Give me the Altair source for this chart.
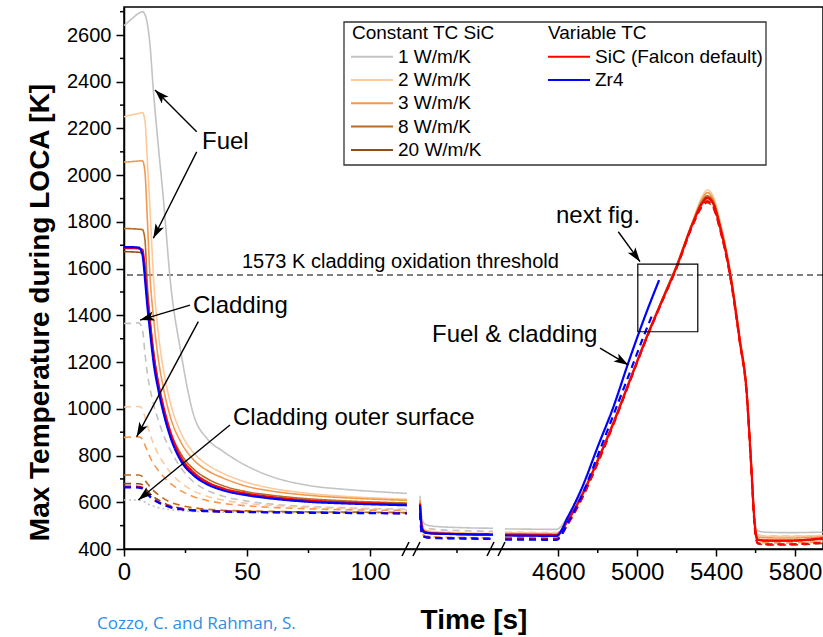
import math
import altair as alt
import pandas as pd

# ---------------- data ----------------
SERIES = ["1 W/m/K", "2 W/m/K", "3 W/m/K", "8 W/m/K", "20 W/m/K",
          "SiC (Falcon default)", "Zr4"]
COLORS = ["#C3C3C3", "#FFC99B", "#F3994F", "#BA6A22", "#8C4E1C", "#FF0000", "#0000FF"]
LINE_W = [1.6, 1.6, 1.6, 1.6, 1.6, 2.2, 2.2]

# time grids [s] for the three axis segments
T_SEG1 = [0, 3, 6, 7.5, 8.5, 9.5, 10.5, 12, 14, 16, 19, 23, 28, 34, 40, 50, 60, 75, 90, 105, 115]
T_SEG2 = [1075, 1100, 1130, 1170, 1230, 1350, 1600, 2000, 2400, 2900]
T_SEG3 = [4330, 4450, 4590, 4650, 4720, 4800, 4880, 4960, 5050, 5130, 5200, 5280, 5330,
          5355, 5385, 5420, 5470, 5520, 5555, 5575, 5597, 5610, 5650, 5760, 5940]
T_SEG3_ZR4_FUEL = [4330, 4450, 4590, 4650, 4720, 4800, 4880, 4960, 5050, 5111]
T_SEG3_ZR4_CLAD = [4330, 4450, 4590, 4650, 4720, 4800, 4880, 4960, 5030, 5080]

# fuel (solid) max temperatures [K]: seg1 + seg2 + seg3
W1_FUEL = [2640, 2668, 2693, 2700, 2688, 2648, 2565, 2355, 2120, 1900, 1530, 1250, 985, 870, 820, 755, 710, 672, 655, 644, 638,
           628, 565, 528, 512, 504, 499, 495, 492, 490, 489,
           486, 485, 484, 540, 640, 785, 948, 1122, 1316, 1478, 1618, 1800, 1900, 1926, 1902, 1798, 1598, 1308, 1082, 815, 515, 478, 472, 470, 472]
W2_FUEL = [2250, 2258, 2264, 2268, 2235, 2060, 1870, 1560, 1320, 1170, 1020, 900, 815, 760, 725, 685, 660, 638, 625, 617, 613,
           612, 540, 500, 486, 480, 476, 473, 470, 468, 467,
           470, 469, 468, 530, 636, 782, 945, 1120, 1315, 1477, 1617, 1803, 1910, 1937, 1910, 1802, 1600, 1310, 1083, 815, 505, 460, 455, 454, 458]
W3_FUEL = [2056, 2058, 2061, 2062, 2015, 1810, 1580, 1390, 1210, 1090, 960, 860, 785, 735, 705, 668, 648, 630, 619, 612, 608,
           608, 535, 495, 482, 476, 472, 469, 467, 465, 464,
           466, 465, 464, 528, 634, 781, 944, 1118, 1313, 1475, 1614, 1798, 1900, 1925, 1898, 1792, 1592, 1302, 1076, 808, 500, 452, 448, 447, 452]
W8_FUEL = [1772, 1771, 1769, 1767, 1725, 1530, 1400, 1250, 1110, 1010, 900, 810, 745, 700, 672, 645, 630, 615, 606, 600, 597,
           598, 528, 489, 477, 471, 468, 466, 464, 462, 461,
           460, 459, 458, 524, 631, 779, 942, 1117, 1312, 1474, 1613, 1795, 1890, 1912, 1888, 1785, 1585, 1296, 1070, 803, 496, 442, 438, 437, 445]
W20_FUEL = [1673, 1672, 1670, 1665, 1610, 1490, 1380, 1240, 1100, 1000, 885, 790, 725, 685, 660, 636, 622, 608, 600, 595, 592,
            594, 525, 486, 474, 469, 466, 464, 462, 460, 459,
            458, 457, 456, 522, 629, 778, 941, 1116, 1311, 1473, 1611, 1793, 1885, 1906, 1882, 1780, 1581, 1292, 1068, 800, 494, 440, 435, 434, 442]
SIC_FUEL = [1688, 1688, 1686, 1680, 1590, 1470, 1370, 1230, 1105, 1010, 895, 795, 730, 685, 660, 637, 622, 607, 599, 594, 591,
            592, 526, 488, 476, 471, 468, 466, 464, 462, 461,
            462, 461, 460, 525, 630, 780, 940, 1115, 1310, 1470, 1608, 1790, 1880, 1902, 1878, 1778, 1580, 1290, 1067, 800, 494, 440, 436, 436, 446]
ZR4_FUEL = [1692, 1692, 1690, 1660, 1560, 1440, 1340, 1200, 1080, 985, 875, 780, 718, 676, 652, 630, 616, 602, 595, 590, 587,
            588, 520, 484, 473, 469, 467, 465, 464, 463, 462]
ZR4_FUEL_S3 = [458, 457, 456, 540, 662, 838, 1010, 1210, 1420, 1551]

# cladding (dashed) max temperatures [K]
W1_CLAD = [1365, 1366, 1368, 1340, 1240, 1150, 1090, 1020, 950, 890, 820, 750, 690, 650, 627, 605, 592, 582, 576, 572, 570,
           572, 530, 505, 495, 490, 486, 482, 479, 477, 476,
           472, 471, 470, 530, 632, 780, 944, 1118, 1312, 1474, 1612, 1793, 1888, 1910, 1886, 1785, 1588, 1300, 1074, 806, 505, 462, 456, 455, 457]
W2_CLAD = [1008, 1009, 1010, 1000, 965, 930, 895, 850, 805, 770, 725, 685, 650, 625, 610, 595, 586, 578, 573, 570, 568,
           568, 505, 470, 460, 456, 453, 451, 450, 449, 448,
           452, 451, 450, 515, 625, 775, 940, 1116, 1310, 1472, 1610, 1792, 1890, 1912, 1888, 1786, 1588, 1298, 1072, 804, 490, 440, 433, 432, 436]
W3_CLAD = [878, 879, 880, 870, 845, 820, 795, 765, 735, 710, 680, 650, 625, 607, 596, 585, 578, 572, 568, 566, 565,
           566, 503, 468, 458, 455, 452, 450, 449, 448, 447,
           448, 447, 446, 512, 622, 773, 938, 1114, 1309, 1470, 1607, 1788, 1882, 1902, 1878, 1778, 1580, 1292, 1066, 798, 486, 433, 427, 426, 431]
W8_CLAD = [717, 717, 717, 710, 695, 680, 667, 650, 632, 617, 600, 587, 577, 570, 566, 563, 561, 559, 558, 557, 556,
           558, 498, 464, 455, 452, 450, 448, 447, 446, 445,
           444, 443, 442, 509, 618, 770, 936, 1112, 1308, 1468, 1605, 1785, 1872, 1890, 1866, 1770, 1574, 1287, 1062, 793, 482, 427, 421, 420, 426]
W20_CLAD = [680, 680, 679, 675, 663, 650, 638, 624, 610, 598, 585, 575, 568, 564, 562, 560, 559, 557, 556, 555, 554,
            556, 496, 463, 454, 451, 449, 447, 446, 445, 444,
            442, 441, 440, 507, 616, 768, 934, 1111, 1307, 1467, 1603, 1782, 1866, 1882, 1860, 1765, 1570, 1284, 1060, 790, 480, 424, 418, 417, 424]
SIC_CLAD = [667, 667, 666, 662, 650, 638, 627, 614, 601, 591, 580, 572, 566, 563, 561, 559, 558, 556, 555, 554, 553,
            555, 495, 462, 454, 451, 449, 447, 446, 445, 444,
            445, 444, 443, 510, 617, 768, 935, 1112, 1308, 1468, 1605, 1785, 1870, 1888, 1865, 1768, 1572, 1285, 1060, 790, 480, 425, 420, 420, 428]
ZR4_CLAD = [664, 664, 663, 659, 647, 635, 624, 611, 599, 589, 578, 570, 565, 562, 560, 558, 557, 555, 554, 553, 552,
            553, 494, 461, 453, 450, 448, 446, 445, 444, 443]
ZR4_CLAD_S3 = [440, 440, 439, 515, 630, 800, 975, 1150, 1305, 1410]

# cladding outer surface (dotted), 1 W/m/K, first segment
W1_OUTER = [610, 610, 609, 606, 600, 594, 589, 583, 577, 573, 568, 564, 561, 559, 558, 557, 556, 555, 554, 553, 552]

THRESHOLD = [1573]
THRESHOLD_LABEL = "1573 K cladding oxidation threshold"
X_TICKS = [0, 50, 100, 4600, 5000, 5400, 5800]
X_MINOR = [25, 75, 2000, 4800, 5200, 5600]
Y_TICKS = list(range(400, 2601, 200))
Y_MINOR = list(range(500, 2701, 200))
NEXT_FIG_T = [5003, 5307]
NEXT_FIG_K = [1330, 1619]

# ---------------- layout helpers ----------------
W, H = 699, 542
XMAX = 699.0
YMIN, YMAX = 400, 2720
KPP = (YMAX - YMIN) / H  # kelvin per pixel


def xd(t):
    """broken time axis -> display coordinate"""
    if t <= 120:
        return t * 2.46
    if t < 4000:
        return 293 + (t - 1000) * 0.04
    return 434.3 + (t - 4600) * 0.1973


def seg(t):
    return 1 if t <= 120 else (2 if t < 4000 else 3)


def ky(py):  # plot pixel row -> kelvin
    return YMAX - py * KPP


rows = []


def add(series, kind, times, vals):
    assert len(times) == len(vals), (series, kind, len(times), len(vals))
    for t, v in zip(times, vals):
        rows.append(dict(series=series, kind=kind, key=f"{series}|{kind}|{seg(t)}", x=xd(t), T=v))


T_MAIN = T_SEG1 + T_SEG2 + T_SEG3
for s, f, c in zip(SERIES[:6], [W1_FUEL, W2_FUEL, W3_FUEL, W8_FUEL, W20_FUEL, SIC_FUEL],
                   [W1_CLAD, W2_CLAD, W3_CLAD, W8_CLAD, W20_CLAD, SIC_CLAD]):
    add(s, "clad", T_MAIN, c)
    add(s, "fuel", T_MAIN, f)
add("Zr4", "clad", T_SEG1 + T_SEG2, ZR4_CLAD)
add("Zr4", "clad", T_SEG3_ZR4_CLAD, ZR4_CLAD_S3)
add("Zr4", "fuel", T_SEG1 + T_SEG2, ZR4_FUEL)
add("Zr4", "fuel", T_SEG3_ZR4_FUEL, ZR4_FUEL_S3)
add("1 W/m/K", "outer", T_SEG1, W1_OUTER)
lines = pd.DataFrame(rows)

FONT = "Liberation Sans"

major_pos = [round(xd(t), 2) for t in X_TICKS]
label_expr = ""
for p, lab in zip(major_pos, X_TICKS):
    label_expr += f"abs(datum.value-{p})<0.5?'{lab}':"
label_expr += "''"

x_scale = alt.Scale(domain=[0, XMAX], nice=False, zero=False)
y_scale = alt.Scale(domain=[YMIN, YMAX], nice=False, zero=False)

x_axis = alt.Axis(values=major_pos, labelExpr=label_expr, title="Time [s]",
                  titleFont=FONT, titleFontSize=28, titleFontWeight="bold",
                  titleY=71, titleBaseline="middle",
                  labelFont=FONT, labelFontSize=24, labelPadding=4,
                  tickSize=7, tickWidth=1.5, tickColor="black",
                  domainColor="black", domainWidth=1.5, grid=False,
                  labelColor="black", titleColor="black", labelFlush=False)
y_axis = alt.Axis(values=Y_TICKS, format="d", title="Max Temperature during LOCA [K]",
                  titleFont=FONT, titleFontSize=28, titleFontWeight="bold",
                  titleX=-84, titleY=305, titleAngle=270, titleBaseline="middle",
                  titleAlign="center",
                  labelFont=FONT, labelFontSize=20, labelPadding=5,
                  tickSize=8, tickWidth=1.5, tickColor="black",
                  domainColor="black", domainWidth=1.5, grid=False,
                  labelColor="black", titleColor="black", labelFlush=False)


def X(field):
    return alt.X(f"{field}:Q", scale=x_scale, axis=x_axis)


def Y(field):
    return alt.Y(f"{field}:Q", scale=y_scale, axis=y_axis)


color_scale = alt.Scale(domain=SERIES, range=COLORS)
dash_scale = alt.Scale(domain=["fuel", "clad", "outer"], range=[[1, 0], [7, 5], [2, 3]])

layers = []

# threshold line
thr = pd.DataFrame({"T": THRESHOLD})
layers.append(alt.Chart(thr).mark_rule(color="black", strokeWidth=1.1, strokeDash=[6, 4]).encode(y=Y("T")))

# data lines, one layer per series (red and blue on top)
for s, w in zip(SERIES, LINE_W):
    layers.append(
        alt.Chart(lines[lines.series == s]).mark_line(strokeWidth=w, interpolate="monotone").encode(
            x=X("x"), y=Y("T"),
            color=alt.Color("series:N", scale=color_scale, legend=None),
            strokeDash=alt.StrokeDash("kind:N", scale=dash_scale, legend=None),
            detail="key:N",
        )
    )

# "next fig." box
box = pd.DataFrame({"x": [xd(NEXT_FIG_T[0])], "x2": [xd(NEXT_FIG_T[1])],
                    "y": [NEXT_FIG_K[0]], "y2": [NEXT_FIG_K[1]]})
layers.append(alt.Chart(box).mark_rect(fillOpacity=0, stroke="black", strokeWidth=1.2).encode(
    x=X("x"), x2="x2", y=Y("y"), y2="y2"))

# minor ticks
xm = pd.DataFrame({"x": [xd(t) for t in X_MINOR]})
layers.append(alt.Chart(xm).mark_rule(color="black", strokeWidth=1.5).encode(
    x=X("x"), y=alt.value(H), y2=alt.value(H + 4)))
ym = pd.DataFrame({"T": Y_MINOR})
layers.append(alt.Chart(ym).mark_rule(color="black", strokeWidth=1.5).encode(
    y=Y("T"), x=alt.value(0), x2=alt.value(-4)))

# axis break marks
brk = []
for c in [287.0, 372.0]:
    for d in (-5.5, 5.5):
        brk.append({"x": c + d - 3.5, "x2": c + d + 3.5})
brk = pd.DataFrame(brk)
layers.append(alt.Chart(brk).mark_rule(color="black", strokeWidth=1.5).encode(
    x=X("x"), x2="x2", y=alt.value(H + 7), y2=alt.value(H - 7)))

# annotations (display x, kelvin)
ann = pd.DataFrame({
    "text": ["Fuel", "Cladding", "Cladding outer surface", "Fuel & cladding", "next fig."],
    "x": [78, 69, 109, 308, 432],
    "T": [2142, 1440, 961, 1316, 1825],
})
layers.append(alt.Chart(ann).mark_text(align="left", baseline="middle", font=FONT, fontSize=24,
                                       color="black").encode(x=X("x"), y=Y("T"), text="text:N"))
thr_lab = pd.DataFrame({"text": [THRESHOLD_LABEL], "x": [118], "T": [1628]})
layers.append(alt.Chart(thr_lab).mark_text(align="left", baseline="middle", font=FONT, fontSize=20,
                                           color="black").encode(x=X("x"), y=Y("T"), text="text:N"))

arrows = pd.DataFrame({
    "x1": [72.7, 72.7, 66.0, 74.3, 106.0, 476.0, 494.3],
    "y1": [2186, 2100, 1444, 1373, 931, 1260, 1758],
    "x2": [31.0, 29.3, 16.0, 12.7, 14.3, 504.3, 516.0],
    "y2": [2365, 1730, 1380, 881, 610, 1188, 1630],
})
arrows["ang"] = [
    math.degrees(math.atan2(r.x2 - r.x1, (r.y2 - r.y1) / KPP)) % 360 for r in arrows.itertuples()
]
layers.append(alt.Chart(arrows).mark_rule(color="black", strokeWidth=1.4).encode(
    x=X("x1"), y=Y("y1"), x2="x2", y2="y2"))
layers.append(alt.Chart(arrows).mark_point(
    shape="M0,0L-0.62,1.9L0,1.45L0.62,1.9Z", filled=True, fill="black", stroke=None, opacity=1, size=230
).encode(x=X("x2"), y=Y("y2"), angle=alt.Angle("ang:Q", scale=None)))

# legend
LEG_X0, LEG_X1 = 220, 642
LEG_Y0, LEG_Y1 = 15, 158
leg_box = pd.DataFrame({"x": [LEG_X0], "x2": [LEG_X1], "y": [ky(LEG_Y0)], "y2": [ky(LEG_Y1)]})
layers.append(alt.Chart(leg_box).mark_rect(fillOpacity=0, stroke="#333333", strokeWidth=1.3).encode(
    x=X("x"), x2="x2", y=Y("y"), y2="y2"))

leg_rows = []
for i, s in enumerate(SERIES):
    col = 0 if i < 5 else 1
    r = i if i < 5 else i - 5
    x0 = 227 if col == 0 else 424
    leg_rows.append({"series": s, "x": x0, "x2": x0 + 42, "xt": x0 + 47, "T": ky(49.7 + 23.3 * r)})
leg = pd.DataFrame(leg_rows)
layers.append(alt.Chart(leg).mark_rule(strokeWidth=2).encode(
    x=X("x"), x2="x2", y=Y("T"), color=alt.Color("series:N", scale=color_scale, legend=None)))
layers.append(alt.Chart(leg).mark_text(align="left", baseline="middle", font=FONT, fontSize=19,
                                       color="black").encode(x=X("xt"), y=Y("T"), text="series:N"))
leg_titles = pd.DataFrame({"text": ["Constant TC SiC", "Variable TC"], "x": [228, 424],
                           "T": [ky(26), ky(26)]})
layers.append(alt.Chart(leg_titles).mark_text(align="left", baseline="middle", font=FONT, fontSize=19,
                                              color="black").encode(x=X("x"), y=Y("T"), text="text:N"))

# citation
cite = pd.DataFrame({"text": ["Cozzo, C. and Rahman, S."]})
layers.append(alt.Chart(cite).mark_text(align="left", baseline="middle", font="Open Sans", fontSize=17,
                                        color="#2E8FE3").encode(x=alt.value(-27), y=alt.value(617),
                                                                text="text:N"))

chart = alt.layer(*layers).properties(
    width=W, height=H,
    padding={"left": 124, "top": 7, "right": 0, "bottom": 88},
    autosize=alt.AutoSizeParams(type="none"),
    background="white",
).configure_view(stroke="black", strokeWidth=1.5)

chart.save("out.html", embed_options={"renderer": "svg", "actions": False})
